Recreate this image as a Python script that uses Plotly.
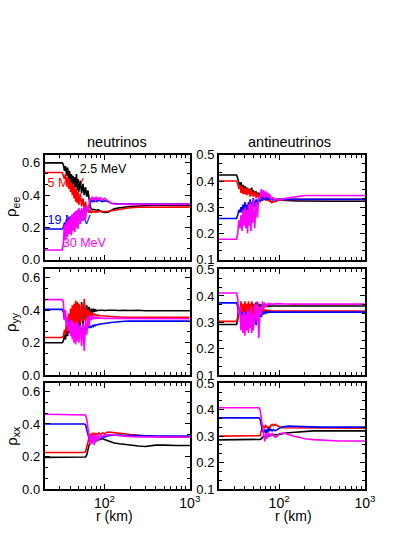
import math
import plotly.graph_objects as go

# ---------------- data (r in km) ----------------
R_TOP = [20, 32,
         33, 34, 35, 36, 37, 38, 39, 40, 41, 42, 43, 44, 45, 46, 47, 48, 49, 50,
         52, 54, 56, 58, 60, 62, 64, 66, 68, 70, 72, 74, 76, 78, 80, 82, 84, 86,
         90, 95, 100, 110, 120, 130, 150, 170, 200, 250, 300, 400, 500, 700, 1000]

R_BOT = [20, 58, 60, 62, 64, 66, 68, 70, 72, 74, 76, 78, 80, 83, 86, 90, 95, 100, 105, 110,
         120, 130, 150, 170, 200, 250, 300, 350, 400, 500, 600, 700, 1000]

# rho_ee, neutrinos
NU_EE_2p5 = [0.60, 0.60,
             0.59, 0.55, 0.58, 0.52, 0.57, 0.50, 0.55, 0.47, 0.53, 0.46, 0.52, 0.44, 0.51, 0.45, 0.53, 0.43, 0.50, 0.42,
             0.49, 0.41, 0.47, 0.40, 0.45, 0.39, 0.43, 0.36, 0.33, 0.315, 0.31, 0.312, 0.31, 0.308, 0.31, 0.305, 0.31, 0.305,
             0.30, 0.295, 0.293, 0.295, 0.305, 0.315, 0.322, 0.327, 0.33, 0.333, 0.336, 0.338, 0.338, 0.338, 0.338]
NU_EE_5 = [0.54, 0.54,
           0.52, 0.50, 0.53, 0.46, 0.51, 0.44, 0.50, 0.42, 0.48, 0.40, 0.47, 0.38, 0.45, 0.36, 0.44, 0.35, 0.42, 0.34,
           0.41, 0.33, 0.38, 0.31, 0.36, 0.30, 0.33, 0.29, 0.31, 0.29, 0.30, 0.295, 0.30, 0.295, 0.30, 0.295, 0.30, 0.298,
           0.30, 0.298, 0.297, 0.30, 0.303, 0.307, 0.313, 0.318, 0.322, 0.325, 0.326, 0.326, 0.326, 0.326, 0.326]
NU_EE_19 = [0.19, 0.19,
            0.20, 0.23, 0.21, 0.25, 0.22, 0.26, 0.23, 0.27, 0.24, 0.28, 0.25, 0.29, 0.26, 0.30, 0.25, 0.30, 0.27, 0.31,
            0.27, 0.31, 0.28, 0.32, 0.29, 0.32, 0.30, 0.33, 0.36, 0.365, 0.36, 0.37, 0.36, 0.365, 0.37, 0.36, 0.365, 0.37,
            0.365, 0.36, 0.365, 0.36, 0.35, 0.347, 0.345, 0.345, 0.345, 0.345, 0.345, 0.345, 0.345, 0.345, 0.345]
NU_EE_30 = [0.06, 0.06,
            0.10, 0.22, 0.12, 0.24, 0.14, 0.25, 0.16, 0.27, 0.15, 0.28, 0.18, 0.29, 0.17, 0.30, 0.20, 0.31, 0.19, 0.32,
            0.22, 0.32, 0.24, 0.33, 0.25, 0.33, 0.30, 0.35, 0.38, 0.37, 0.39, 0.37, 0.385, 0.365, 0.39, 0.37, 0.385, 0.37,
            0.385, 0.37, 0.38, 0.365, 0.35, 0.345, 0.343, 0.343, 0.343, 0.343, 0.343, 0.343, 0.343, 0.343, 0.343]

# rho_ee, antineutrinos
AN_EE_2p5 = [0.423, 0.423,
             0.41, 0.39, 0.38, 0.395, 0.37, 0.385, 0.365, 0.38, 0.36, 0.375, 0.36, 0.37, 0.355, 0.37, 0.36, 0.375, 0.355, 0.365,
             0.35, 0.36, 0.345, 0.355, 0.34, 0.35, 0.34, 0.345, 0.335, 0.34, 0.335, 0.34, 0.335, 0.338, 0.333, 0.336, 0.332, 0.333,
             0.33, 0.33, 0.328, 0.327, 0.326, 0.325, 0.325, 0.324, 0.324, 0.323, 0.323, 0.323, 0.323, 0.323, 0.323]
AN_EE_5 = [0.40, 0.40,
           0.39, 0.37, 0.385, 0.355, 0.38, 0.35, 0.375, 0.35, 0.37, 0.345, 0.375, 0.35, 0.365, 0.34, 0.37, 0.345, 0.36, 0.34,
           0.36, 0.335, 0.355, 0.335, 0.35, 0.33, 0.345, 0.33, 0.34, 0.325, 0.335, 0.325, 0.33, 0.32, 0.325, 0.318, 0.322, 0.32,
           0.322, 0.325, 0.327, 0.328, 0.329, 0.33, 0.33, 0.33, 0.33, 0.33, 0.33, 0.33, 0.33, 0.33, 0.33]
AN_EE_19 = [0.257, 0.257,
            0.27, 0.29, 0.28, 0.30, 0.28, 0.31, 0.29, 0.32, 0.28, 0.31, 0.29, 0.32, 0.30, 0.33, 0.29, 0.32, 0.30, 0.335,
            0.30, 0.33, 0.31, 0.34, 0.32, 0.335, 0.325, 0.34, 0.33, 0.34, 0.33, 0.335, 0.33, 0.335, 0.33, 0.333, 0.328, 0.33,
            0.328, 0.33, 0.33, 0.33, 0.33, 0.33, 0.33, 0.33, 0.33, 0.33, 0.33, 0.33, 0.33, 0.33, 0.33]
AN_EE_30 = [0.178, 0.178,
            0.20, 0.25, 0.22, 0.27, 0.21, 0.29, 0.23, 0.30, 0.22, 0.29, 0.20, 0.31, 0.23, 0.32, 0.21, 0.31, 0.24, 0.33,
            0.22, 0.32, 0.26, 0.34, 0.33, 0.37, 0.34, 0.365, 0.335, 0.36, 0.34, 0.355, 0.335, 0.35, 0.33, 0.34, 0.33, 0.335,
            0.33, 0.328, 0.33, 0.332, 0.334, 0.337, 0.34, 0.343, 0.345, 0.345, 0.345, 0.345, 0.345, 0.345, 0.345]

# rho_yy, neutrinos
NU_YY_2p5 = [0.20, 0.20,
             0.21, 0.25, 0.22, 0.30, 0.24, 0.33, 0.26, 0.36, 0.28, 0.38, 0.27, 0.40, 0.29, 0.42, 0.28, 0.43, 0.30, 0.44,
             0.29, 0.45, 0.31, 0.44, 0.33, 0.43, 0.35, 0.42, 0.36, 0.41, 0.38, 0.41, 0.39, 0.405, 0.395, 0.40, 0.398, 0.40,
             0.40, 0.40, 0.398, 0.40, 0.398, 0.40, 0.398, 0.40, 0.398, 0.40, 0.397, 0.398, 0.397, 0.398, 0.397]
NU_YY_5 = [0.233, 0.233,
           0.24, 0.28, 0.25, 0.34, 0.27, 0.38, 0.29, 0.41, 0.30, 0.43, 0.31, 0.44, 0.30, 0.46, 0.32, 0.45, 0.31, 0.44,
           0.32, 0.44, 0.33, 0.47, 0.34, 0.41, 0.35, 0.40, 0.36, 0.39, 0.365, 0.38, 0.37, 0.375, 0.368, 0.372, 0.366, 0.368,
           0.366, 0.365, 0.364, 0.362, 0.36, 0.36, 0.358, 0.357, 0.357, 0.357, 0.357, 0.357, 0.357, 0.357, 0.357]
NU_YY_19 = [0.405, 0.405,
            0.39, 0.34, 0.36, 0.32, 0.35, 0.30, 0.34, 0.28, 0.33, 0.27, 0.32, 0.26, 0.31, 0.25, 0.30, 0.26, 0.31, 0.25,
            0.30, 0.26, 0.31, 0.27, 0.30, 0.28, 0.31, 0.29, 0.30, 0.295, 0.305, 0.30, 0.31, 0.305, 0.31, 0.31, 0.312, 0.313,
            0.315, 0.318, 0.32, 0.322, 0.325, 0.327, 0.33, 0.332, 0.333, 0.333, 0.333, 0.333, 0.333, 0.333, 0.333]
NU_YY_30 = [0.465, 0.465,
            0.45, 0.34, 0.40, 0.30, 0.36, 0.27, 0.33, 0.24, 0.34, 0.22, 0.33, 0.20, 0.32, 0.19, 0.33, 0.21, 0.32, 0.20,
            0.31, 0.18, 0.32, 0.15, 0.34, 0.25, 0.36, 0.30, 0.37, 0.34, 0.365, 0.345, 0.36, 0.35, 0.358, 0.35, 0.356, 0.35,
            0.352, 0.35, 0.35, 0.35, 0.35, 0.35, 0.349, 0.349, 0.348, 0.348, 0.348, 0.348, 0.348, 0.348, 0.348]

# rho_yy, antineutrinos
AN_YY_2p5 = [0.292, 0.292,
             0.31, 0.35, 0.33, 0.37, 0.34, 0.36, 0.345, 0.365, 0.35, 0.37, 0.35, 0.365, 0.355, 0.37, 0.35, 0.375, 0.355, 0.37,
             0.355, 0.375, 0.36, 0.37, 0.358, 0.368, 0.36, 0.365, 0.36, 0.365, 0.36, 0.364, 0.36, 0.363, 0.361, 0.362, 0.362, 0.362,
             0.362, 0.362, 0.362, 0.362, 0.362, 0.362, 0.362, 0.362, 0.362, 0.362, 0.362, 0.362, 0.362, 0.362, 0.362]
AN_YY_5 = [0.304, 0.304,
           0.32, 0.36, 0.33, 0.38, 0.32, 0.37, 0.31, 0.38, 0.32, 0.37, 0.30, 0.38, 0.31, 0.37, 0.30, 0.38, 0.31, 0.365,
           0.32, 0.37, 0.32, 0.36, 0.33, 0.355, 0.335, 0.35, 0.34, 0.348, 0.34, 0.346, 0.342, 0.345, 0.343, 0.344, 0.343, 0.343,
           0.343, 0.343, 0.343, 0.343, 0.343, 0.343, 0.343, 0.343, 0.343, 0.343, 0.343, 0.343, 0.343, 0.343, 0.343]
AN_YY_19 = [0.374, 0.374,
            0.36, 0.33, 0.35, 0.30, 0.34, 0.29, 0.33, 0.28, 0.34, 0.29, 0.33, 0.27, 0.34, 0.28, 0.33, 0.27, 0.32, 0.28,
            0.33, 0.29, 0.33, 0.30, 0.335, 0.32, 0.34, 0.33, 0.34, 0.335, 0.34, 0.337, 0.34, 0.339, 0.339, 0.339, 0.339, 0.339,
            0.339, 0.339, 0.339, 0.339, 0.339, 0.339, 0.339, 0.339, 0.339, 0.339, 0.339, 0.339, 0.339, 0.339, 0.339]
AN_YY_30 = [0.411, 0.411,
            0.39, 0.33, 0.36, 0.27, 0.33, 0.26, 0.34, 0.25, 0.33, 0.27, 0.35, 0.26, 0.34, 0.28, 0.36, 0.26, 0.33, 0.27,
            0.37, 0.30, 0.38, 0.24, 0.36, 0.33, 0.38, 0.35, 0.375, 0.36, 0.37, 0.365, 0.372, 0.368, 0.37, 0.369, 0.369, 0.369,
            0.37, 0.372, 0.371, 0.37, 0.369, 0.369, 0.369, 0.369, 0.369, 0.369, 0.369, 0.369, 0.369, 0.369, 0.369]

# rho_xx, neutrinos
NU_XX_2p5 = [0.195, 0.195, 0.197, 0.21, 0.25, 0.27, 0.28, 0.29, 0.285, 0.295, 0.29, 0.30, 0.295, 0.30, 0.305, 0.305,
             0.31, 0.305, 0.30, 0.295, 0.288, 0.283, 0.278, 0.274, 0.27, 0.265, 0.262, 0.266, 0.27, 0.27, 0.268, 0.268, 0.268]
NU_XX_5 = [0.225, 0.225, 0.23, 0.26, 0.30, 0.33, 0.34, 0.32, 0.345, 0.33, 0.345, 0.335, 0.34, 0.33, 0.345, 0.335,
           0.345, 0.34, 0.345, 0.35, 0.348, 0.347, 0.345, 0.34, 0.335, 0.33, 0.326, 0.322, 0.32, 0.318, 0.318, 0.318, 0.318]
NU_XX_19 = [0.40, 0.40, 0.395, 0.37, 0.33, 0.31, 0.32, 0.30, 0.32, 0.31, 0.325, 0.31, 0.32, 0.305, 0.315, 0.31,
            0.315, 0.32, 0.325, 0.328, 0.33, 0.332, 0.332, 0.33, 0.33, 0.328, 0.327, 0.326, 0.326, 0.325, 0.325, 0.325, 0.325]
NU_XX_30 = [0.459, 0.459, 0.455, 0.43, 0.37, 0.30, 0.27, 0.33, 0.28, 0.34, 0.27, 0.33, 0.29, 0.34, 0.30, 0.33,
            0.32, 0.335, 0.33, 0.335, 0.332, 0.33, 0.328, 0.325, 0.322, 0.32, 0.32, 0.32, 0.32, 0.32, 0.32, 0.32, 0.32]

# rho_xx, antineutrinos
AN_XX_2p5 = [0.286, 0.286, 0.288, 0.29, 0.295, 0.30, 0.298, 0.302, 0.30, 0.303, 0.30, 0.304, 0.302, 0.305, 0.303, 0.306,
             0.305, 0.307, 0.308, 0.31, 0.312, 0.313, 0.315, 0.316, 0.318, 0.32, 0.32, 0.32, 0.32, 0.32, 0.32, 0.32, 0.32]
AN_XX_5 = [0.30, 0.30, 0.302, 0.32, 0.335, 0.34, 0.33, 0.34, 0.335, 0.33, 0.335, 0.33, 0.34, 0.345, 0.34, 0.345,
           0.34, 0.335, 0.333, 0.332, 0.332, 0.332, 0.332, 0.332, 0.331, 0.331, 0.33, 0.33, 0.33, 0.33, 0.33, 0.33, 0.33]
AN_XX_19 = [0.369, 0.369, 0.365, 0.34, 0.32, 0.315, 0.325, 0.31, 0.325, 0.315, 0.33, 0.32, 0.325, 0.32, 0.325, 0.32,
            0.325, 0.33, 0.333, 0.335, 0.337, 0.338, 0.337, 0.336, 0.335, 0.334, 0.334, 0.334, 0.334, 0.334, 0.334, 0.334, 0.334]
AN_XX_30 = [0.407, 0.407, 0.40, 0.37, 0.33, 0.31, 0.28, 0.31, 0.29, 0.315, 0.30, 0.31, 0.30, 0.31, 0.305, 0.295,
            0.30, 0.31, 0.31, 0.312, 0.31, 0.305, 0.30, 0.295, 0.29, 0.287, 0.285, 0.284, 0.283, 0.282, 0.282, 0.282, 0.282]

COLUMN_TITLES = ["neutrinos", "antineutrinos"]
ROW_LABELS = ["\u03c1<sub>ee</sub>", "\u03c1<sub>yy</sub>", "\u03c1<sub>xx</sub>"]
ENERGY_LABELS = ["2.5 MeV", "5 MeV", "19 MeV", "30 MeV"]
COLORS = ["#000000", "#ff0000", "#0000ff", "#ff00ff"]
X_TICKS = [100, 1000]
X_TICKTEXT = ["10<sup>2</sup>", "10<sup>3</sup>"]
X_MINOR = [30, 40, 50, 60, 70, 80, 90, 200, 300, 400, 500, 600, 700, 800, 900]

panels = [
    [(R_TOP, [NU_EE_2p5, NU_EE_5, NU_EE_19, NU_EE_30]), (R_TOP, [AN_EE_2p5, AN_EE_5, AN_EE_19, AN_EE_30])],
    [(R_TOP, [NU_YY_2p5, NU_YY_5, NU_YY_19, NU_YY_30]), (R_TOP, [AN_YY_2p5, AN_YY_5, AN_YY_19, AN_YY_30])],
    [(R_BOT, [NU_XX_2p5, NU_XX_5, NU_XX_19, NU_XX_30]), (R_BOT, [AN_XX_2p5, AN_XX_5, AN_XX_19, AN_XX_30])],
]

# ---------------- layout geometry ----------------
W, H = 415, 537
XDOM = [[46 / W, 195 / W], [225 / W, 375 / W]]
ROWPX = [(152, 260), (270, 379), (387, 496)]
YDOM = [[1 - b / H, 1 - t / H] for t, b in ROWPX]
FONT = "Liberation Sans, Arial, Helvetica, sans-serif"

fig = go.Figure()

# energy labels (drawn first so curves cover them)
lab_pos = [(51.5, 0.557), (21.6, 0.468), (21.6, 0.243), (32.5, 0.098)]
for (lx, ly), txt, col in zip(lab_pos, ENERGY_LABELS, COLORS):
    fig.add_trace(go.Scatter(x=[lx], y=[ly], mode="text", text=[txt], textposition="middle right",
                             textfont=dict(family=FONT, size=12.5, color=col),
                             xaxis="x", yaxis="y", hoverinfo="skip"))

for r in range(3):
    for c in range(2):
        k = r * 2 + c + 1
        xs, series = panels[r][c]
        for vals, col in zip(series, COLORS):
            fig.add_trace(go.Scatter(x=xs, y=vals, mode="lines",
                                     line=dict(color=col, width=1.6),
                                     xaxis="x" if k == 1 else f"x{k}",
                                     yaxis="y" if k == 1 else f"y{k}",
                                     hoverinfo="skip"))

layout = dict(width=W, height=H, margin=dict(l=0, r=0, t=0, b=0),
              paper_bgcolor="white", plot_bgcolor="white", showlegend=False,
              font=dict(family=FONT, size=13, color="black"))

for r in range(3):
    for c in range(2):
        k = r * 2 + c + 1
        xk = "xaxis" if k == 1 else f"xaxis{k}"
        yk = "yaxis" if k == 1 else f"yaxis{k}"
        layout[xk] = dict(
            domain=XDOM[c], anchor="y" if k == 1 else f"y{k}",
            type="log", range=[math.log10(20), 3],
            tickvals=X_TICKS, ticktext=X_TICKTEXT, showticklabels=(r == 2),
            tickfont=dict(size=14),
            ticks="inside", ticklen=5, tickwidth=1, tickcolor="black",
            minor=dict(ticks="inside", ticklen=3, tickwidth=1, tickcolor="black", tickvals=X_MINOR, showgrid=False),
            showline=True, linewidth=2, linecolor="black", mirror="allticks",
            showgrid=False, zeroline=False)
        if c == 0:
            yr, dt, t0 = [0, 0.65], 0.2, 0
            mdt = 0.2 / 3
        else:
            yr, dt, t0 = [0.1, 0.5], 0.1, 0.1
            mdt = 0.1 / 3
        layout[yk] = dict(
            domain=YDOM[r], anchor="x" if k == 1 else f"x{k}",
            range=yr, tick0=t0, dtick=dt, tickformat=".1f",
            tickfont=dict(size=13),
            ticks="inside", ticklen=5, tickwidth=1, tickcolor="black",
            minor=dict(ticks="inside", ticklen=3, tickwidth=1, tickcolor="black", tick0=0, dtick=mdt, showgrid=False),
            showline=True, linewidth=2, linecolor="black", mirror="allticks",
            showgrid=False, zeroline=False)

ann = []
for c, t in enumerate(COLUMN_TITLES):
    cx = [120.5, 297][c]
    ann.append(dict(text=t, x=cx / W, y=1 - 139 / H, xref="paper", yref="paper", showarrow=False,
                    xanchor="center", yanchor="middle", font=dict(family=FONT, size=14.5, color="black")))
    ann.append(dict(text="r (km)", x=[118, 301][c] / W, y=1 - 524 / H, xref="paper", yref="paper",
                    showarrow=False, xanchor="center", yanchor="middle",
                    font=dict(family=FONT, size=14, color="black")))
for r, lab in enumerate(ROW_LABELS):
    t, b = ROWPX[r]
    ann.append(dict(text=lab, x=12 / W, y=1 - ((t + b) / 2) / H, xref="paper", yref="paper", showarrow=False,
                    xanchor="center", yanchor="middle", textangle=-90,
                    font=dict(family=FONT, size=15, color="black")))
layout["annotations"] = ann

fig.update_layout(**layout)
fig.write_html("out.html", config={"displayModeBar": False, "staticPlot": True},
               post_script="document.body.style.margin='0px';document.body.style.overflow='hidden';")
